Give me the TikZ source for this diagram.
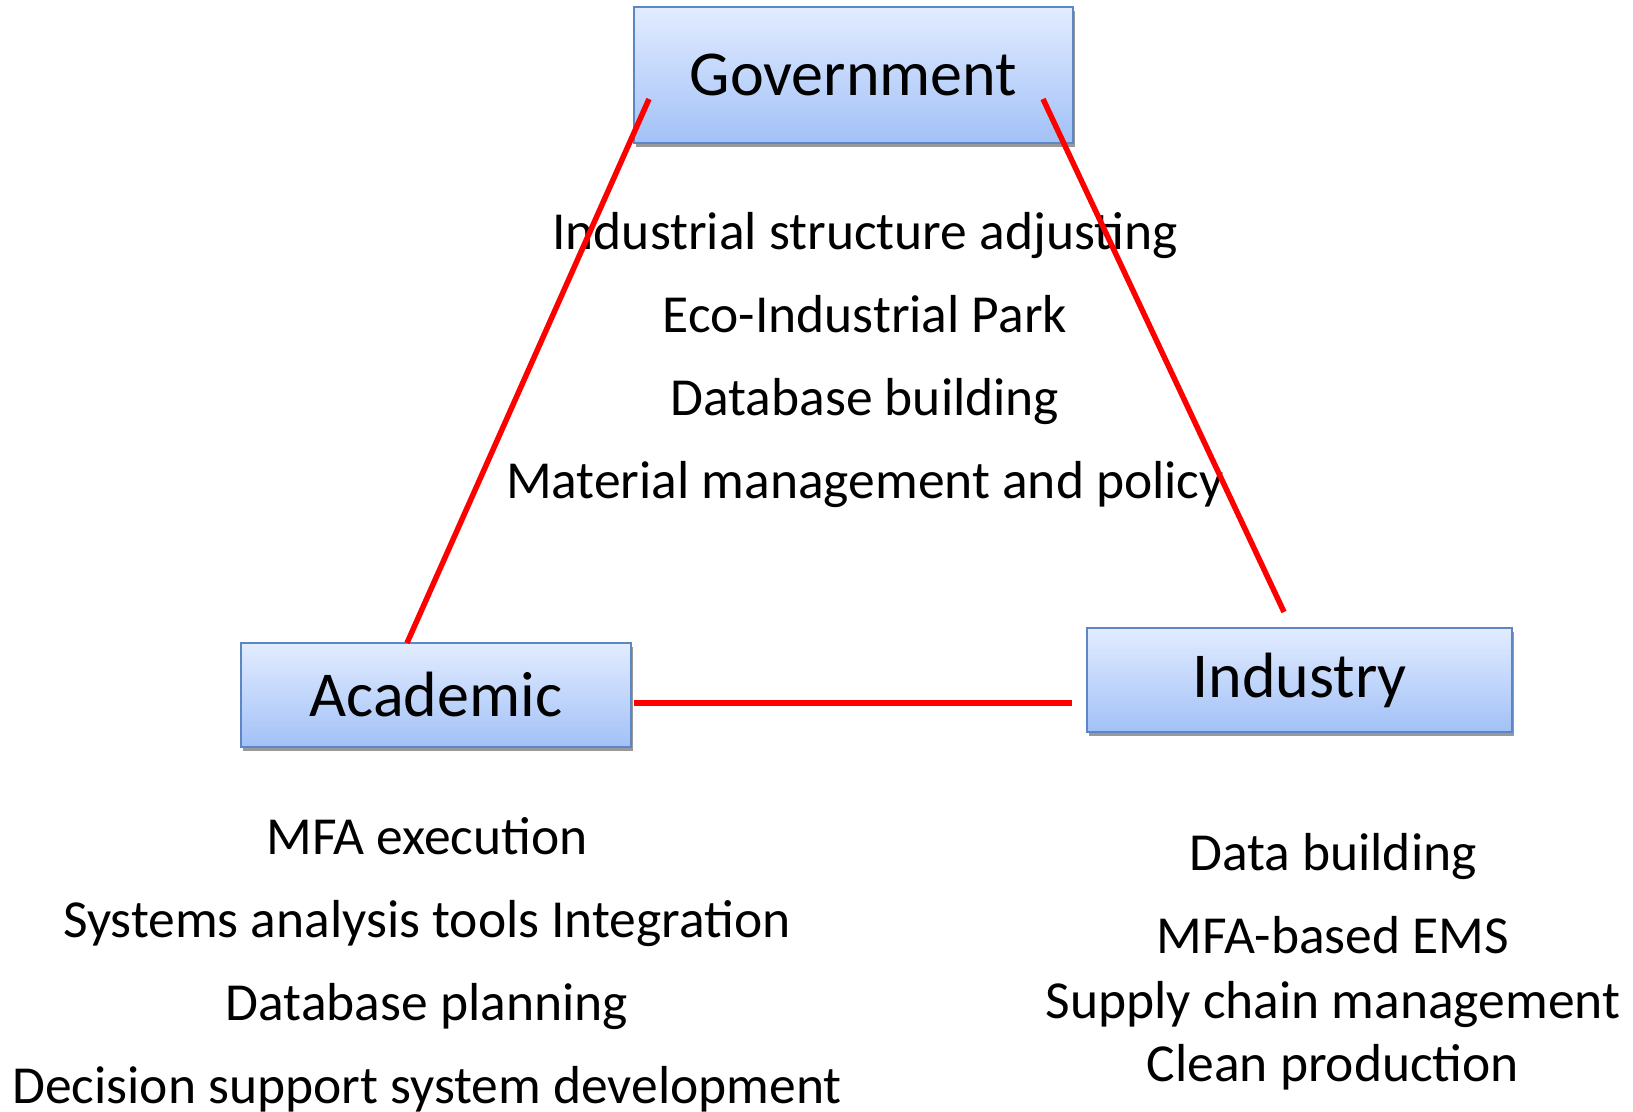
\documentclass[tikz,border=0pt]{standalone}
\usepackage{fontspec}
\setmainfont{Carlito}
\usepackage{tikz}
\usetikzlibrary{shadows}
\definecolor{boxtop}{RGB}{226,236,255}
\definecolor{boxbot}{RGB}{162,193,247}
\definecolor{boxline}{RGB}{92,134,196}
\newcommand*{\bigtext}{\fontsize{64}{70}\selectfont}
\newcommand*{\smalltext}{\fontsize{53.5}{58}\selectfont}

\begin{document}
\begin{tikzpicture}[x=1pt, y=-1pt, semithick, node distance=83.3pt]
\tikzstyle{actor}=[draw=boxline, line width=1.5pt, top color=boxtop, bottom color=boxbot,
  drop shadow={shadow xshift=2pt, shadow yshift=-3.5pt, fill=black!40, opacity=1},
  inner sep=0pt, font=\bigtext, text=black]
\tikzstyle{item}=[inner sep=0pt, font=\smalltext, text=black, text height=0.75em, text depth=0.25em]
\tikzstyle{link}=[draw=red, line width=5.5pt]
\useasboundingbox (0,0) rectangle (1633,1111);
% the three partners
\node[actor, minimum width=439pt, minimum height=136pt] (gov) at (853.5,75)  {Government};
\node[actor, minimum width=390pt, minimum height=104pt] (aca) at (436,695)   {Academic};
\node[actor, minimum width=425pt, minimum height=104pt] (ind) at (1299.5,680) {Industry};
% what each one does
\node[item] (g1) at (865,246.5)  {Industrial structure adjusting};
\node[item] (g2)[below of=g1]    {Eco-Industrial Park};
\node[item] (g3)[below of=g2]    {Database building};
\node[item] (g4)[below of=g3]    {Material management and policy};
\node[item] (a1) at (427,851.5)  {MFA execution};
\node[item] (a2)[below of=a1]    {Systems analysis tools Integration};
\node[item] (a3)[below of=a2]    {Database planning};
\node[item] (a4)[below of=a3]    {Decision support system development};
\node[item] (i1) at (1333,867.5) {Data building};
\node[item] (i2)[below of=i1]    {MFA-based EMS};
\node[item] (i3)[below of=i2, node distance=65pt] {Supply chain management};
\node[item] (i4)[below of=i3, node distance=63pt] {Clean production};
% ends of the links
\coordinate (gl) at (649,99);
\coordinate (gr) at (1043,99);
\coordinate (at) at (407,643);
\coordinate (ar) at (634,703);
\coordinate (it) at (1284,612);
\coordinate (il) at (1072,703);
\path[link]
(gl) edge (at)
(gr) edge (it)
(ar) edge (il);
\end{tikzpicture}
\end{document}
